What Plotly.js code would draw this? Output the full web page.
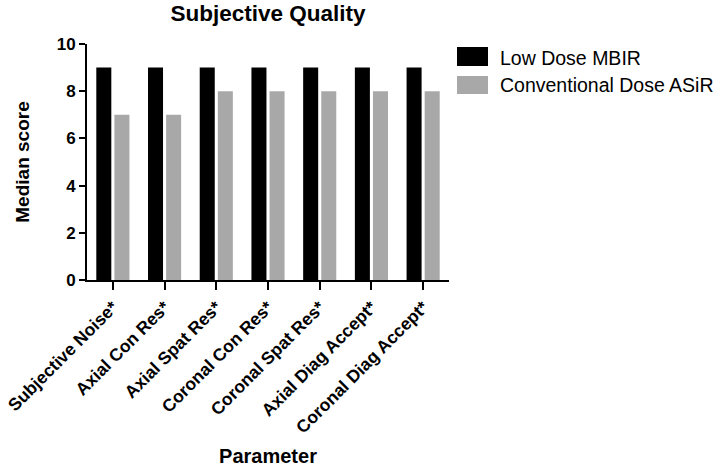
<!DOCTYPE html>
<html>
<head>
<meta charset="utf-8">
<script src="https://cdn.plot.ly/plotly-3.0.1.min.js"></script>
<style>html,body{margin:0;padding:0;background:#fff;}#chart{width:722px;height:467px;}</style>
</head>
<body>
<div id="chart"></div>
<script>
const categories = ["Subjective Noise*", "Axial Con Res*", "Axial Spat Res*", "Coronal Con Res*", "Coronal Spat Res*", "Axial Diag Accept*", "Coronal Diag Accept*"];
const seriesNames = ["Low Dose MBIR", "Conventional Dose ASiR"];
const lowDoseMBIR = [9, 9, 9, 9, 9, 9, 9];
const convDoseASiR = [7, 7, 8, 8, 8, 8, 8];
const seriesColors = ["#000000", "#a8a8a8"];
const yTicks = [0, 2, 4, 6, 8, 10];

const F = "Arial, 'Liberation Sans', Helvetica, sans-serif";
const data = [
  {type: "bar", x: categories, y: lowDoseMBIR, name: seriesNames[0], marker: {color: seriesColors[0]}},
  {type: "bar", x: categories, y: convDoseASiR, name: seriesNames[1], marker: {color: seriesColors[1]}}
];

// plot area: x 87..449, y 44..280
const px = v => (v - 87) / 362;
const py = v => (280 - v) / 236;
const shapes = [], annotations = [];
const boxTop = [47, 76], boxBot = [66, 94], textY = [58, 85];
seriesNames.forEach((n, i) => {
  shapes.push({type: "rect", xref: "paper", yref: "paper",
    x0: px(457), x1: px(488), y0: py(boxBot[i]), y1: py(boxTop[i]),
    fillcolor: seriesColors[i], line: {width: 0}});
  annotations.push({xref: "paper", yref: "paper", x: px(498), y: py(textY[i]),
    xanchor: "left", yanchor: "middle", text: n, showarrow: false,
    font: {family: F, size: 19.5, color: "#000"}});
});

const layout = {
  width: 722, height: 467,
  margin: {l: 87, r: 273, t: 44, b: 187},
  paper_bgcolor: "#fff", plot_bgcolor: "#fff",
  showlegend: false,
  bargap: 0.3, bargroupgap: 0.17,
  title: {text: "Subjective Quality", x: 268 / 722, xanchor: "center", y: 1 - 13 / 467, yanchor: "middle",
    font: {family: F, size: 22.5, weight: "bold", color: "#000"}},
  xaxis: {
    range: [-0.5, 6.5], showgrid: false, zeroline: false,
    showline: true, linecolor: "#000", linewidth: 2,
    ticks: "outside", ticklen: 8, tickwidth: 2, tickcolor: "#000",
    tickangle: -45, tickfont: {family: F, size: 17.5, weight: "bold", color: "#000"},
    title: {text: "Parameter", standoff: 22, font: {family: F, size: 20, weight: "bold", color: "#000"}}
  },
  yaxis: {
    range: [0, 10], tickvals: yTicks, showgrid: false, zeroline: false,
    showline: true, linecolor: "#000", linewidth: 2,
    ticks: "outside", ticklen: 6, tickwidth: 2, tickcolor: "#000",
    tickfont: {family: F, size: 17, weight: "bold", color: "#000"},
    title: {text: "Median score", standoff: 22, font: {family: F, size: 19, weight: "bold", color: "#000"}}
  },
  shapes: shapes, annotations: annotations
};
Plotly.newPlot("chart", data, layout, {displayModeBar: false, staticPlot: true});
</script>
</body>
</html>
